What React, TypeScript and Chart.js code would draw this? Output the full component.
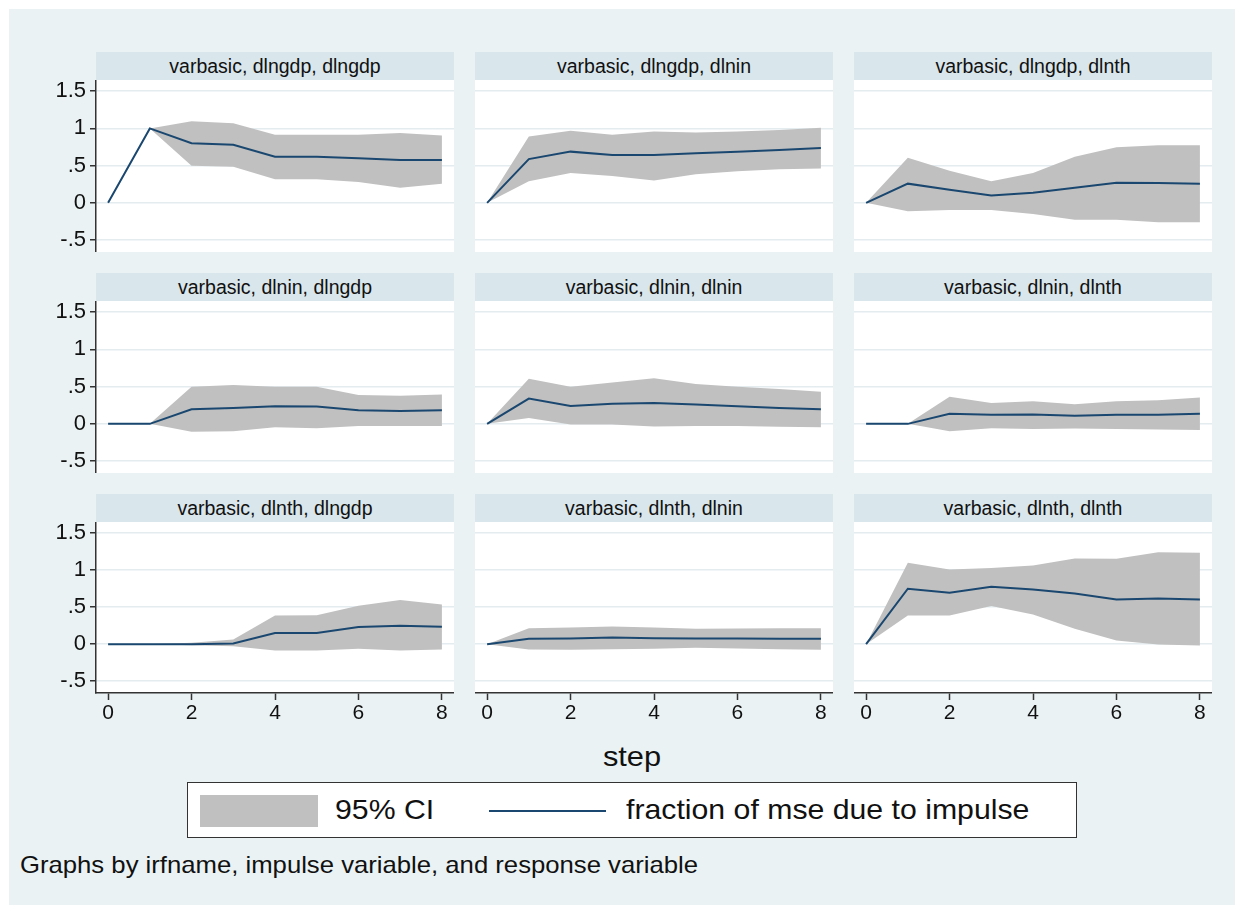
import React, { useEffect, useRef } from "react";
import { Chart, registerables } from "chart.js";

Chart.register(...registerables);

// ---------- data ----------
const steps = [0, 1, 2, 3, 4, 5, 6, 7, 8];
const xTickValues = [0, 2, 4, 6, 8];
const xTickLabels = ["0", "2", "4", "6", "8"];
const yTickValues = [-0.5, 0, 0.5, 1, 1.5];
const yTickLabels = ["-.5", "0", ".5", "1", "1.5"];

const panelTitles = [
  "varbasic, dlngdp, dlngdp",
  "varbasic, dlngdp, dlnin",
  "varbasic, dlngdp, dlnth",
  "varbasic, dlnin, dlngdp",
  "varbasic, dlnin, dlnin",
  "varbasic, dlnin, dlnth",
  "varbasic, dlnth, dlngdp",
  "varbasic, dlnth, dlnin",
  "varbasic, dlnth, dlnth",
];

// fraction of mse due to impulse, 95% CI upper / lower
const gdpGdpFevd = [0, 1, 0.8, 0.78, 0.62, 0.62, 0.6, 0.575, 0.575];
const gdpGdpUpper = [0, 1, 1.095, 1.07, 0.914, 0.914, 0.914, 0.937, 0.905];
const gdpGdpLower = [0, 1, 0.5, 0.484, 0.317, 0.317, 0.28, 0.204, 0.258];

const gdpInFevd = [0, 0.588, 0.688, 0.643, 0.643, 0.665, 0.688, 0.71, 0.738];
const gdpInUpper = [0, 0.89, 0.968, 0.914, 0.96, 0.946, 0.96, 0.98, 1.01];
const gdpInLower = [0, 0.29, 0.4, 0.36, 0.3, 0.385, 0.425, 0.45, 0.46];

const gdpThFevd = [0, 0.258, 0.176, 0.1, 0.136, 0.204, 0.27, 0.267, 0.258];
const gdpThUpper = [0, 0.606, 0.43, 0.29, 0.4, 0.62, 0.747, 0.774, 0.774];
const gdpThLower = [0, -0.113, -0.095, -0.095, -0.15, -0.226, -0.226, -0.26, -0.26];

const inGdpFevd = [0, 0, 0.195, 0.214, 0.236, 0.232, 0.182, 0.173, 0.182];
const inGdpUpper = [0, 0, 0.5, 0.523, 0.5, 0.5, 0.386, 0.377, 0.395];
const inGdpLower = [0, 0, -0.105, -0.1, -0.045, -0.06, -0.03, -0.03, -0.03];

const inInFevd = [0, 0.34, 0.24, 0.27, 0.28, 0.26, 0.236, 0.214, 0.195];
const inInUpper = [0, 0.605, 0.5, 0.555, 0.614, 0.536, 0.5, 0.468, 0.43];
const inInLower = [0, 0.077, -0.01, -0.01, -0.036, -0.03, -0.03, -0.04, -0.045];

const inThFevd = [0, 0, 0.136, 0.123, 0.127, 0.11, 0.123, 0.123, 0.136];
const inThUpper = [0, 0, 0.364, 0.28, 0.305, 0.264, 0.305, 0.318, 0.355];
const inThLower = [0, 0, -0.1, -0.06, -0.068, -0.064, -0.068, -0.077, -0.082];

const thGdpFevd = [0, 0, 0, 0.01, 0.149, 0.149, 0.23, 0.25, 0.234];
const thGdpUpper = [0, 0, 0.018, 0.063, 0.387, 0.39, 0.52, 0.595, 0.536];
const thGdpLower = [0, 0, -0.014, -0.027, -0.086, -0.086, -0.063, -0.086, -0.072];

const thInFevd = [0, 0.072, 0.077, 0.09, 0.081, 0.077, 0.077, 0.072, 0.072];
const thInUpper = [0, 0.216, 0.225, 0.239, 0.225, 0.207, 0.21, 0.216, 0.216];
const thInLower = [0, -0.072, -0.077, -0.068, -0.063, -0.05, -0.059, -0.068, -0.077];

const thThFevd = [0, 0.748, 0.694, 0.775, 0.739, 0.685, 0.604, 0.617, 0.604];
const thThUpper = [0, 1.1, 1.01, 1.03, 1.063, 1.158, 1.153, 1.243, 1.234];
const thThLower = [0, 0.387, 0.387, 0.514, 0.4, 0.207, 0.05, -0.005, -0.018];

const fevdSeries = [gdpGdpFevd, gdpInFevd, gdpThFevd, inGdpFevd, inInFevd, inThFevd, thGdpFevd, thInFevd, thThFevd];
const upperSeries = [gdpGdpUpper, gdpInUpper, gdpThUpper, inGdpUpper, inInUpper, inThUpper, thGdpUpper, thInUpper, thThUpper];
const lowerSeries = [gdpGdpLower, gdpInLower, gdpThLower, inGdpLower, inInLower, inThLower, thGdpLower, thInLower, thThLower];

// ---------- style ----------
const FONT = "'Liberation Sans', Arial, Helvetica, sans-serif";
const BG = "#EAF2F3";
const STRIP = "#D9E6EB";
const GRID = "#E4ECEF";
const AXIS = "#333333";
const LINE = "#1A476F";
const BAND = "#C0C0C0";

const colLeft = [96, 475, 854];
const plotW = 358;
const rowTop = [80, 301, 522];
const rowH = [172, 172, 171];
const yAxisW = 60;
const xAxisH = 36;
const stripH = 28;

function Panel({ idx }: { idx: number }) {
  const ref = useRef<HTMLCanvasElement | null>(null);
  const col = idx % 3;
  const row = Math.floor(idx / 3);
  const isLeft = col === 0;
  const isBottom = row === 2;
  const cw = plotW + (isLeft ? yAxisW : 0);
  const ch = rowH[row] + (isBottom ? xAxisH : 0);
  const left = colLeft[col] - (isLeft ? yAxisW : 0);
  const top = rowTop[row];

  useEffect(() => {
    if (!ref.current) return;
    const pts = (arr: number[]) => steps.map((s, i) => ({ x: s, y: arr[i] }));
    const chart = new Chart(ref.current, {
      type: "line",
      data: {
        datasets: [
          {
            label: "fraction of mse due to impulse",
            data: pts(fevdSeries[idx]),
            borderColor: LINE,
            borderWidth: 2,
            pointRadius: 0,
            fill: false,
            tension: 0,
          },
          {
            label: "95% CI upper",
            data: pts(upperSeries[idx]),
            borderColor: "rgba(0,0,0,0)",
            borderWidth: 0,
            backgroundColor: BAND,
            pointRadius: 0,
            fill: "+1",
            tension: 0,
          },
          {
            label: "95% CI lower",
            data: pts(lowerSeries[idx]),
            borderColor: "rgba(0,0,0,0)",
            borderWidth: 0,
            pointRadius: 0,
            fill: false,
            tension: 0,
          },
        ],
      },
      options: {
        animation: false,
        responsive: false,
        maintainAspectRatio: false,
        devicePixelRatio: 1,
        layout: { padding: 0 },
        plugins: {
          legend: { display: false },
          tooltip: { enabled: false },
          filler: { drawTime: "beforeDatasetsDraw" },
        },
        scales: {
          x: {
            type: "linear",
            min: -0.29,
            max: 8.29,
            display: isBottom,
            grid: {
              display: true,
              drawOnChartArea: false,
              drawTicks: true,
              tickLength: 7,
              tickColor: AXIS,
              tickWidth: 1.5,
            },
            border: { display: true, color: AXIS, width: 1.5 },
            ticks: {
              font: { family: FONT, size: 21 },
              color: "#111",
              padding: 1,
              maxRotation: 0,
              callback: (v: any) => {
                const i = xTickValues.indexOf(Number(v));
                return i >= 0 ? xTickLabels[i] : "";
              },
            },
            afterBuildTicks: (s: any) => {
              s.ticks = xTickValues.map((v) => ({ value: v }));
            },
            afterFit: (s: any) => {
              s.height = isBottom ? xAxisH : 0;
              s.paddingLeft = 0;
              s.paddingRight = 0;
            },
          },
          y: {
            type: "linear",
            min: -0.66,
            max: 1.65,
            grid: {
              color: GRID,
              lineWidth: 1.5,
              drawTicks: isLeft,
              tickLength: 6,
              tickColor: AXIS,
              tickWidth: 1.5,
            },
            border: { display: isLeft, color: AXIS, width: 1.5 },
            ticks: {
              display: isLeft,
              font: { family: FONT, size: 22 },
              color: "#111",
              padding: 4,
              callback: (v: any) => {
                const i = yTickValues.indexOf(Number(v));
                return i >= 0 ? yTickLabels[i] : "";
              },
            },
            afterBuildTicks: (s: any) => {
              s.ticks = yTickValues.map((v) => ({ value: v }));
            },
            afterFit: (s: any) => {
              s.width = isLeft ? yAxisW : 0;
              s.paddingTop = 0;
              s.paddingBottom = 0;
            },
          },
        },
      } as any,
    });
    return () => chart.destroy();
  }, [idx]);

  return (
    <>
      <div
        style={{
          position: "absolute",
          left: colLeft[col],
          top: top - stripH,
          width: plotW,
          height: stripH,
          background: STRIP,
          fontFamily: FONT,
          fontSize: 19.5,
          lineHeight: stripH + "px",
          textAlign: "center",
          color: "#111",
          whiteSpace: "nowrap",
        }}
      >
        {panelTitles[idx]}
      </div>
      <div
        style={{
          position: "absolute",
          left: colLeft[col],
          top: top,
          width: plotW,
          height: rowH[row],
          background: "#FFFFFF",
        }}
      />
      <canvas
        ref={ref}
        width={cw}
        height={ch}
        style={{ position: "absolute", left, top, width: cw, height: ch }}
      />
    </>
  );
}

export default function App() {
  return (
    <div
      style={{
        position: "fixed",
        left: 0,
        top: 0,
        width: 1242,
        height: 912,
        background: "#FFFFFF",
        overflow: "hidden",
      }}
    >
      <div
        style={{
          position: "absolute",
          left: 9,
          top: 9,
          width: 1226,
          height: 896,
          background: BG,
        }}
      />
      {panelTitles.map((_, i) => (
        <Panel key={i} idx={i} />
      ))}
      <div
        style={{
          position: "absolute",
          left: 532,
          top: 739,
          width: 200,
          textAlign: "center",
          fontFamily: FONT,
          fontSize: 28,
          lineHeight: "36px",
          color: "#111",
          transform: "scaleX(1.1)",
          transformOrigin: "center",
        }}
      >
        step
      </div>
      <div
        style={{
          position: "absolute",
          left: 187,
          top: 782,
          width: 888,
          height: 54,
          border: "1.5px solid #333",
          background: "#FFFFFF",
          fontFamily: FONT,
          color: "#111",
        }}
      >
        <div
          style={{
            position: "absolute",
            left: 12,
            top: 12,
            width: 118,
            height: 32,
            background: BAND,
          }}
        />
        <div
          style={{
            position: "absolute",
            left: 147,
            top: 0,
            height: 54,
            lineHeight: "54px",
            fontSize: 28,
            whiteSpace: "nowrap",
            transform: "scaleX(1.08)",
            transformOrigin: "left center",
          }}
        >
          95% CI
        </div>
        <div
          style={{
            position: "absolute",
            left: 301,
            top: 27,
            width: 117,
            height: 2,
            background: LINE,
          }}
        />
        <div
          style={{
            position: "absolute",
            left: 438,
            top: 0,
            height: 54,
            lineHeight: "54px",
            fontSize: 28,
            whiteSpace: "nowrap",
            transform: "scaleX(1.08)",
            transformOrigin: "left center",
          }}
        >
          fraction of mse due to impulse
        </div>
      </div>
      <div
        style={{
          position: "absolute",
          left: 20,
          top: 851,
          fontFamily: FONT,
          fontSize: 24,
          lineHeight: "28px",
          color: "#111",
          whiteSpace: "nowrap",
          transform: "scaleX(1.07)",
          transformOrigin: "left center",
        }}
      >
        Graphs by irfname, impulse variable, and response variable
      </div>
    </div>
  );
}
